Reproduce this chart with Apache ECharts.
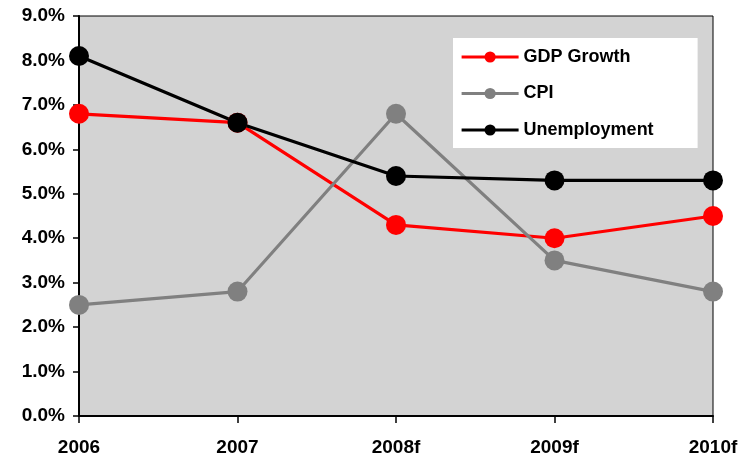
<!DOCTYPE html>
<html>
<head>
<meta charset="utf-8">
<script src="https://cdn.jsdelivr.net/npm/echarts@6/dist/echarts.min.js"></script>
<style>html,body{margin:0;padding:0;background:#fff;}#c{width:742px;height:459px;}</style>
</head>
<body>
<div id="c"></div>
<script>
var categories = ['2006', '2007', '2008f', '2009f', '2010f'];
var gdpGrowth = [6.8, 6.6, 4.3, 4.0, 4.5];
var cpi = [2.5, 2.8, 6.8, 3.5, 2.8];
var unemployment = [8.1, 6.6, 5.4, 5.3, 5.3];
var seriesNames = ['GDP Growth', 'CPI', 'Unemployment'];
var colors = ['#FF0000', '#808080', '#000000'];

var font = '"Liberation Sans", Arial, sans-serif';
var chart = echarts.init(document.getElementById('c'));
function mk(name, data, color) {
  return {
    name: name, type: 'line', data: data,
    symbol: 'circle', symbolSize: 20,
    lineStyle: {color: color, width: 3.2},
    itemStyle: {color: color},
    emphasis: {disabled: true},
    animation: false
  };
}
chart.setOption({
  animation: false,
  grid: {left: 79, right: 29, top: 16, bottom: 43, show: true, backgroundColor: '#D3D3D3', borderColor: '#000', borderWidth: 1},
  legend: {
    orient: 'vertical', left: 453, top: 38,
    backgroundColor: '#FFFFFF', padding: [10, 44, 9, 7],
    itemWidth: 57, itemHeight: 14, itemGap: 18.5,
    lineStyle: {width: 3.2},
    textStyle: {fontFamily: font, fontWeight: 'bold', fontSize: 18, color: '#000'},
    data: seriesNames
  },
  xAxis: {
    type: 'category', data: categories, boundaryGap: false,
    axisLine: {show: true, lineStyle: {color: '#000', width: 2}},
    axisTick: {show: true, length: 7, lineStyle: {color: '#000', width: 1.5}},
    axisLabel: {fontFamily: font, fontWeight: 'bold', fontSize: 19, color: '#000', margin: 22},
    splitLine: {show: false}
  },
  yAxis: {
    type: 'value', min: 0, max: 9, interval: 1,
    axisLine: {show: true, lineStyle: {color: '#000', width: 2}},
    axisTick: {show: true, length: 6, lineStyle: {color: '#000', width: 1.5}},
    axisLabel: {fontFamily: font, fontWeight: 'bold', fontSize: 19, color: '#000', margin: 14,
      formatter: function (v) { return v.toFixed(1) + '%'; }},
    splitLine: {show: false}
  },
  series: [
    mk(seriesNames[0], gdpGrowth, colors[0]),
    mk(seriesNames[1], cpi, colors[1]),
    mk(seriesNames[2], unemployment, colors[2])
  ]
});
</script>
</body>
</html>
